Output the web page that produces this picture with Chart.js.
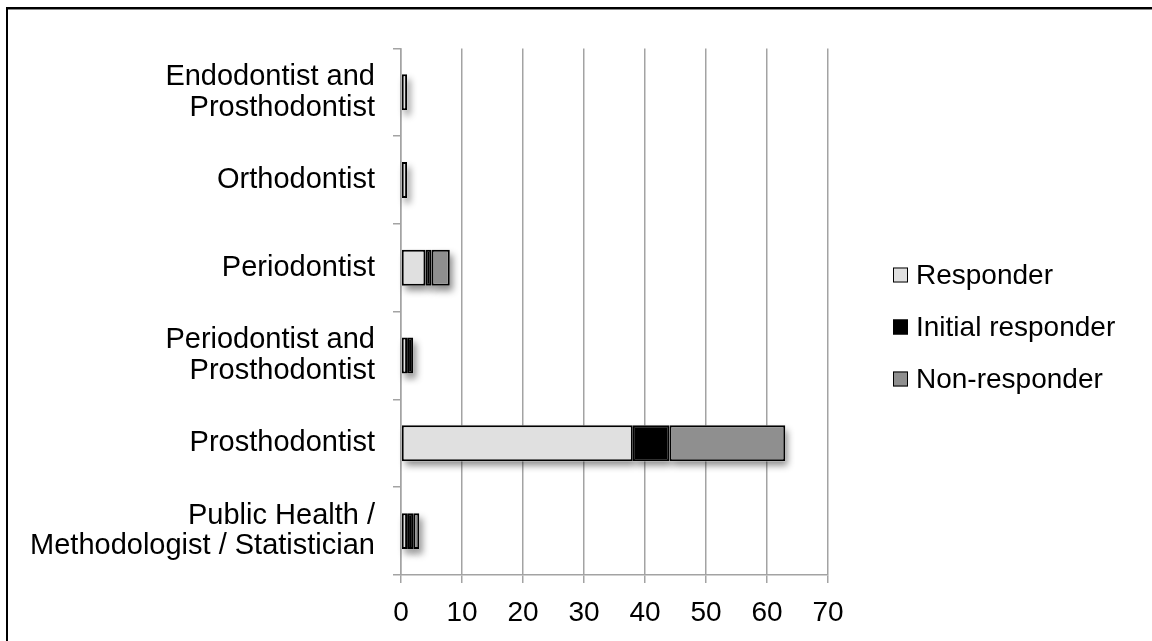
<!DOCTYPE html>
<html>
<head>
<meta charset="utf-8">
<script src="https://cdn.jsdelivr.net/npm/chart.js@4/dist/chart.umd.min.js"></script>
<style>
  html, body { margin: 0; padding: 0; background: #fff; }
  #wrap { width: 1152px; height: 641px; position: relative; }
</style>
</head>
<body>
<div id="wrap"><canvas id="specialty_chart"></canvas></div>
<script>
// specialties, top to bottom
var specialties = [
  ['Endodontist and', 'Prosthodontist'],
  'Orthodontist',
  'Periodontist',
  ['Periodontist and', 'Prosthodontist'],
  'Prosthodontist',
  ['Public Health /', 'Methodologist / Statistician']
];
var responder = [1, 1, 4, 1, 38, 1];
var initialResponder = [0, 0, 1, 1, 6, 1];
var nonResponder = [0, 0, 3, 0, 19, 1];
var xTicks = [0, 10, 20, 30, 40, 50, 60, 70];

var FONT = 'Liberation Sans, Arial, Helvetica, sans-serif';
var GRID = '#a3a3a3';

// frame around the whole figure (runs off the right/bottom edge)
var framePlugin = {
  id: 'frame',
  beforeDraw: function(chart) {
    var ctx = chart.ctx;
    ctx.save();
    ctx.strokeStyle = '#000';
    ctx.lineWidth = 2;
    ctx.strokeRect(7, 8, 2000, 2000);
    ctx.strokeStyle = '#888';
    ctx.lineWidth = 1;
    ctx.beginPath();
    ctx.moveTo(8, 9.5); ctx.lineTo(1152, 9.5);
    ctx.stroke();
    ctx.restore();
  }
};

// soft drop shadow under each bar segment; bars get painted on top of it
var shadowPlugin = {
  id: 'barShadow',
  beforeDatasetsDraw: function(chart) {
    var ctx = chart.ctx;
    ctx.save();
    ctx.shadowColor = 'rgba(0,0,0,0.45)';
    ctx.shadowBlur = 7;
    ctx.shadowOffsetX = 3;
    ctx.shadowOffsetY = 5;
    ctx.fillStyle = '#fff';
    chart.data.datasets.forEach(function(ds, i) {
      chart.getDatasetMeta(i).data.forEach(function(el) {
        var p = el.getProps(['x', 'y', 'base', 'height'], true);
        var w = p.x - p.base;
        if (w <= 0) return;
        ctx.fillRect(p.base, p.y - p.height / 2, w, p.height);
      });
    });
    ctx.restore();
  }
};

// legend on the right, square swatches
var legendPlugin = {
  id: 'sideLegend',
  afterDraw: function(chart) {
    var ctx = chart.ctx;
    var x = 893, y0 = 275, step = 52, box = 15;
    ctx.save();
    ctx.font = '28px ' + FONT;
    ctx.textBaseline = 'middle';
    ctx.textAlign = 'left';
    chart.data.datasets.forEach(function(ds, i) {
      var cy = y0 + i * step;
      ctx.fillStyle = ds.backgroundColor;
      ctx.fillRect(x, cy - box / 2, box, box);
      ctx.strokeStyle = '#000';
      ctx.lineWidth = 1;
      ctx.strokeRect(x + 0.5, cy - box / 2 + 0.5, box - 1, box - 1);
      ctx.fillStyle = '#000';
      ctx.fillText(ds.label, x + 23, cy + 1);
    });
    ctx.restore();
  }
};

function barSet(label, data, color) {
  return {
    label: label,
    data: data,
    backgroundColor: color,
    borderColor: '#000',
    borderWidth: 2,
    borderSkipped: false,
    categoryPercentage: 1,
    barPercentage: 0.41
  };
}

var ctx = document.getElementById('specialty_chart').getContext('2d');
var chart = new Chart(ctx, {
  type: 'bar',
  data: {
    labels: specialties,
    datasets: [
      barSet('Responder', responder, '#e0e0e0'),
      barSet('Initial responder', initialResponder, '#000000'),
      barSet('Non-responder', nonResponder, '#8f8f8f')
    ]
  },
  plugins: [framePlugin, shadowPlugin, legendPlugin],
  options: {
    indexAxis: 'y',
    responsive: true,
    maintainAspectRatio: false,
    animation: false,
    layout: { padding: { left: 0, top: 43, right: 324, bottom: 0 } },
    plugins: {
      legend: { display: false },
      tooltip: { enabled: false }
    },
    scales: {
      x: {
        stacked: true,
        min: 0,
        max: 70,
        afterBuildTicks: function(scale) {
          scale.ticks = xTicks.map(function(v) { return { value: v }; });
        },
        afterFit: function(scale) { scale.height = 66; },
        grid: { color: GRID, lineWidth: 1.5, tickLength: 8, drawTicks: true },
        border: { color: GRID, width: 1.5 },
        ticks: {
          color: '#000',
          font: { family: FONT, size: 28 },
          padding: 13,
          maxRotation: 0
        }
      },
      y: {
        stacked: true,
        afterFit: function(scale) { scale.width = 401; },
        grid: { color: GRID, lineWidth: 1.5, tickLength: 8, drawOnChartArea: false, offset: true },
        border: { color: GRID, width: 1.5 },
        ticks: {
          color: '#000',
          font: { family: FONT, size: 29, lineHeight: 1.05 },
          padding: 18
        }
      }
    }
  }
});
</script>
</body>
</html>
